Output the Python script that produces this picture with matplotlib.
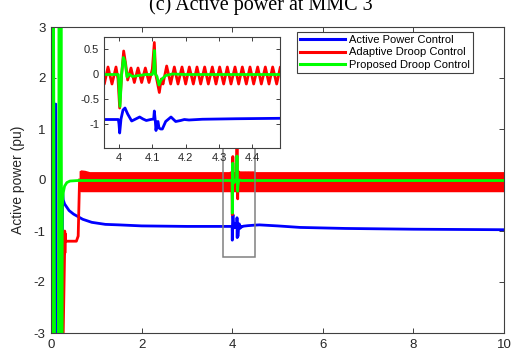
import matplotlib
matplotlib.use('Agg')
import matplotlib.pyplot as plt
from matplotlib.patches import Rectangle

plt.rcParams['font.family'] = ['Liberation Sans', 'DejaVu Sans']
plt.rcParams['axes.unicode_minus'] = False

# --- start-up transient (t < 1 s) and slow tails ---------------------------
blue_t = [0, 0.04, 0.105, 0.112, 0.12, 0.245, 0.255, 0.27, 0.3, 0.4, 0.5,
          0.7, 0.9, 1.2, 1.5, 2.0, 3.0, 3.95]
blue_v = [0, -3.5, 1.49, -3.5, -3.5, -3.5, -0.2, -0.39, -0.47, -0.6, -0.67,
          -0.77, -0.83, -0.87, -0.88, -0.9, -0.91, -0.91]
blue_tail_t = [4.6, 5.0, 5.5, 6.5, 8.0, 10.0]
blue_tail_v = [-0.88, -0.9, -0.93, -0.95, -0.965, -0.975]

red_t = [0, 0.03, 0.26, 0.30, 0.303, 0.307, 0.312, 0.32, 0.56, 0.6, 0.63]
red_v = [0, -3.5, -3.5, -1.43, -1.0, -1.43, -1.05, -1.2, -1.2, -1.1, 0.0]

# envelope of the steady 44 Hz oscillation of the adaptive droop output
band_t = [0.62, 0.66, 0.75, 0.85, 1.0, 10.0]
band_hi = [0.18, 0.2, 0.19, 0.165, 0.165, 0.165]
band_lo = [-0.22, -0.23, -0.23, -0.23, -0.23, -0.23]

green_t = [0, 0.005, 0.03, 0.055, 0.08, 0.16, 0.18, 0.2, 0.22, 0.24, 0.25,
           0.27, 0.3, 0.35, 0.42, 0.6, 3.95]
green_v = [0, 3.5, -3.5, 3.5, -3.5, -3.5, 3.5, -3.5, 3.5, -3.5, -0.5,
           -0.25, -0.12, -0.05, -0.02, -0.01, -0.01]
green_tail_t = [4.5, 10.0]
green_tail_v = [-0.01, -0.01]

# --- fault window 3.95 .. 4.5 s --------------------------------------------
win_blue_t = [3.95, 3.998, 4.0, 4.002, 4.006, 4.012, 4.018, 4.026, 4.038,
              4.05, 4.062, 4.072, 4.082, 4.095, 4.104, 4.106, 4.109, 4.111,
              4.114, 4.117, 4.12, 4.125, 4.13, 4.14, 4.156, 4.17, 4.185,
              4.196, 4.21, 4.25, 4.35, 4.5]
win_blue_v = [-0.91, -0.91, -1.0, -1.18, -0.9, -0.72, -0.68, -0.8, -0.94,
              -0.9, -0.86, -0.9, -0.93, -0.91, -0.9, -0.74, -0.95, -1.13,
              -0.96, -0.95, -1.08, -1.1, -1.1, -0.95, -0.86, -0.95, -0.93,
              -0.91, -0.92, -0.905, -0.895, -0.885]

win_red_t = [3.95, 3.956, 3.967, 3.979, 3.991, 3.997, 4.002, 4.008, 4.014,
             4.020, 4.026, 4.036, 4.046, 4.057, 4.068, 4.079, 4.090, 4.100,
             4.106, 4.110, 4.116, 4.121, 4.127, 4.132, 4.143, 4.155, 4.166,
             4.177, 4.189, 4.200, 4.211, 4.223, 4.234, 4.245, 4.257, 4.268,
             4.280, 4.291, 4.302, 4.314, 4.325, 4.336, 4.348, 4.359, 4.370,
             4.382, 4.393, 4.404, 4.416, 4.427, 4.439, 4.450, 4.461, 4.473,
             4.484, 4.495]
win_red_v = [-0.03, -0.2, 0.14, -0.2, 0.14, -0.1, -0.68, 0.0, 0.46,
             0.2, -0.12, 0.12, -0.17, 0.12, -0.17, 0.12, -0.17, 0.1,
             0.63, 0.0, -0.2, -0.37, -0.1, -0.2, 0.16, -0.2, 0.14,
             -0.2, 0.14, -0.2, 0.14, -0.2, 0.14, -0.2, 0.14, -0.2,
             0.14, -0.2, 0.14, -0.2, 0.14, -0.2, 0.14, -0.2, 0.14,
             -0.2, 0.14, -0.2, 0.14, -0.2, 0.14, -0.2, 0.14, -0.2,
             0.14, -0.2]

win_green_t = [3.95, 3.998, 4.003, 4.008, 4.013, 4.018, 4.024, 4.03, 4.04,
               4.06, 4.08, 4.1, 4.104, 4.106, 4.109, 4.114, 4.12, 4.126,
               4.14, 4.16, 4.2, 4.5]
win_green_v = [-0.01, -0.01, -0.65, 0.0, 0.33, 0.25, -0.06, 0.0, -0.05,
               -0.03, -0.01, -0.01, 0.1, 0.47, 0.0, -0.05, -0.22, -0.12,
               -0.03, 0.0, -0.01, -0.01]

labels = ['Active Power Control', 'Adaptive Droop Control',
          'Proposed Droop Control']
x_ticks = [0, 2, 4, 6, 8, 10]
y_ticks = [-3, -2, -1, 0, 1, 2, 3]
in_x_ticks = [4, 4.1, 4.2, 4.3, 4.4]
in_y_ticks = [-1, -0.5, 0, 0.5]

BLUE, RED, GREEN = '#0000ff', '#ff0000', '#00ff00'
AXC = '#404040'

full_blue_t = blue_t + win_blue_t + blue_tail_t
full_blue_v = blue_v + win_blue_v + blue_tail_v
full_green_t = green_t + win_green_t + green_tail_t
full_green_v = green_v + win_green_v + green_tail_v

fig = plt.figure(figsize=(5.21, 3.56), dpi=100)
fig.text(0.5, 1 - 10 / 356, '(c) Active power at MMC 3', ha='center',
         va='baseline', fontsize=14.5, family='Liberation Serif')

ax = fig.add_axes([51 / 521, 23 / 356, 453 / 521, 306 / 356])
lw = 2.0
ax.plot(full_blue_t, full_blue_v, color=BLUE, lw=lw, label=labels[0])
ax.fill_between(band_t, band_lo, band_hi, color=RED, lw=0)
ax.plot(red_t, red_v, color=RED, lw=lw, label=labels[1])
ax.plot(win_red_t, win_red_v, color=RED, lw=lw)
ax.plot(full_green_t, full_green_v, color=GREEN, lw=lw, label=labels[2])
ax.add_patch(Rectangle((3.8, -1.5), 0.71, 3.0, fill=False, ec='#808080',
                       lw=1.1, zorder=5))

ax.set_xlim(0, 10)
ax.set_ylim(-3, 3)
ax.set_xticks(x_ticks)
ax.set_yticks(y_ticks)
ax.tick_params(direction='in', top=True, right=True, length=3.5, width=0.7,
               labelsize=9.5, pad=4, color=AXC, labelcolor='#262626')
for s in ax.spines.values():
    s.set_color(AXC)
    s.set_linewidth(0.8)
ax.set_ylabel('Active power (pu)', fontsize=10, color='#262626')
ax.yaxis.set_label_coords(-0.057, 0.5)

leg = ax.legend(loc='upper right', bbox_to_anchor=(0.932, 0.984),
                fontsize=8, handlelength=4.0, handletextpad=0.4,
                labelspacing=0.2, borderpad=0.3, borderaxespad=0,
                fancybox=False, framealpha=1)
leg.get_frame().set_edgecolor(AXC)
leg.get_frame().set_linewidth(0.8)
for h in leg.get_lines():
    h.set_linewidth(2.2)

# zoomed view of the fault window
ins = fig.add_axes([104 / 521, 208 / 356, 176 / 521, 111 / 356])
ins.plot(win_blue_t, win_blue_v, color=BLUE, lw=lw)
ins.plot(win_red_t, win_red_v, color=RED, lw=lw)
ins.plot(win_green_t, win_green_v, color=GREEN, lw=lw)
ins.set_xlim(3.955, 4.483)
ins.set_ylim(-1.48, 0.74)
ins.set_xticks(in_x_ticks)
ins.set_xticklabels(['4', '4.1', '4.2', '4.3', '4.4'])
ins.set_yticks(in_y_ticks)
ins.set_yticklabels(['-1', '-0.5', '0', '0.5'])
ins.tick_params(direction='in', top=True, right=True, length=3, width=0.7,
                labelsize=8, pad=3.5, color=AXC, labelcolor='#262626')
for s in ins.spines.values():
    s.set_color(AXC)
    s.set_linewidth(0.8)

fig.savefig('out.png', dpi=100)
